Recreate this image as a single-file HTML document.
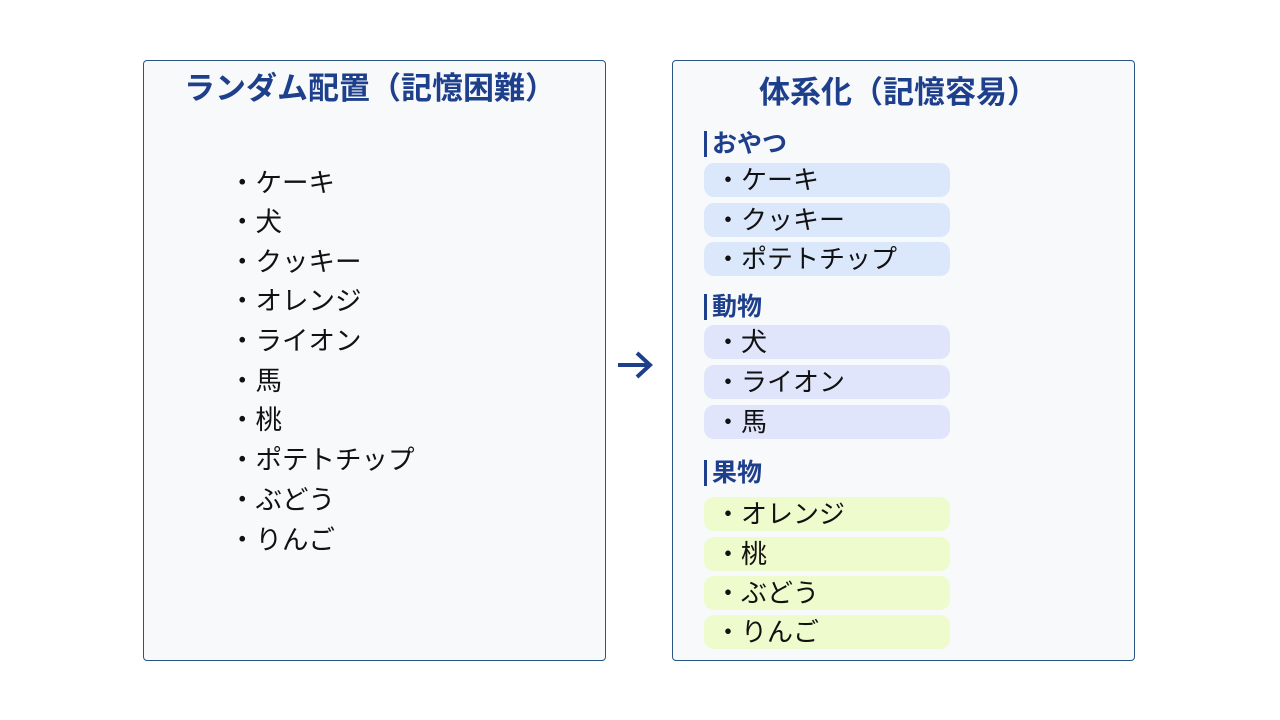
<!DOCTYPE html>
<html><head><meta charset="utf-8"><style>
body{margin:0;width:1280px;height:720px;background:#fff;position:relative;overflow:hidden;font-family:"Liberation Sans","Noto Sans CJK JP",sans-serif;}
.box{position:absolute;top:60px;width:461px;height:599px;border:1px solid #2a5580;border-radius:4px;background:#f8f9fb;}
.t{position:absolute;font-size:31px;font-weight:bold;color:#1e3f8c;white-space:nowrap;line-height:40px;}
.li{position:absolute;left:229px;font-size:26.5px;line-height:40px;color:#111;white-space:nowrap;}
.h{position:absolute;left:704px;font-size:25px;font-weight:bold;color:#1e3f8c;border-left:3px solid #1e3f8c;padding-left:5px;height:26px;line-height:26px;}
.p{position:absolute;left:704px;width:246px;height:34px;border-radius:10px;font-size:26px;line-height:34px;color:#111;padding-left:11px;box-sizing:border-box;white-space:nowrap;}
.a{background:#dbe8fc}.b{background:#e0e5fb}.c{background:#eefbcc}
</style></head><body>
<div class="box" style="left:143px"></div>
<div class="box" style="left:672px"></div>
<div class="t" style="left:184px;top:69px">ランダム配置（記憶困難）</div>
<div class="t" style="left:759px;top:73px">体系化（記憶容易）</div>
<div class="li" style="top:163px">・ケーキ</div>
<div class="li" style="top:202px">・犬</div>
<div class="li" style="top:242px">・クッキー</div>
<div class="li" style="top:281px">・オレンジ</div>
<div class="li" style="top:321px">・ライオン</div>
<div class="li" style="top:361px">・馬</div>
<div class="li" style="top:400px">・桃</div>
<div class="li" style="top:440px">・ポテトチップ</div>
<div class="li" style="top:480px">・ぶどう</div>
<div class="li" style="top:520px">・りんご</div>
<svg style="position:absolute;left:615px;top:348px" width="40" height="34"><path d="M3 17H34M22 5L35 17L22 29" fill="none" stroke="#1e3f8c" stroke-width="4"/></svg>
<div class="h" style="top:131px">おやつ</div>
<div class="p a" style="top:163px">・ケーキ</div>
<div class="p a" style="top:203px">・クッキー</div>
<div class="p a" style="top:242px">・ポテトチップ</div>
<div class="h" style="top:294px">動物</div>
<div class="p b" style="top:325px">・犬</div>
<div class="p b" style="top:365px">・ライオン</div>
<div class="p b" style="top:405px">・馬</div>
<div class="h" style="top:460px">果物</div>
<div class="p c" style="top:497px">・オレンジ</div>
<div class="p c" style="top:537px">・桃</div>
<div class="p c" style="top:576px">・ぶどう</div>
<div class="p c" style="top:615px">・りんご</div>
</body></html>
